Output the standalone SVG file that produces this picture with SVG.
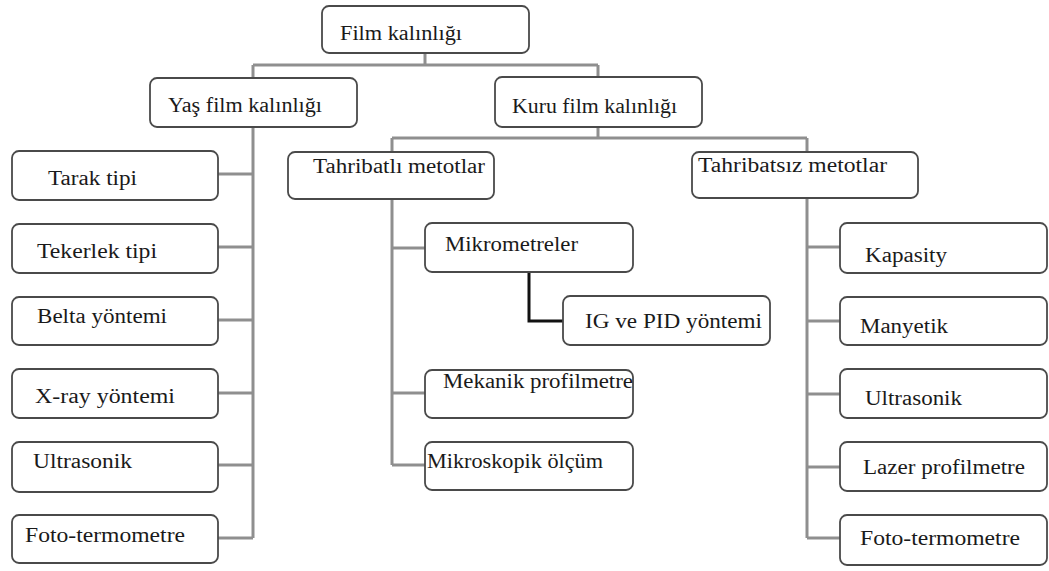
<svg xmlns="http://www.w3.org/2000/svg" width="1049" height="571" viewBox="0 0 1049 571">
<style>
.box{fill:#fff;stroke:#4a4a4a;stroke-width:1.8}
.t{font-size:20px;fill:#1a1a1a}
.c{fill:none;stroke:#8f8f8f;stroke-width:3}
.k{fill:none;stroke:#111;stroke-width:3}
</style>
<rect width="1049" height="571" fill="#fff"/>
<g id="connectors">
<path class="c" d="M425,53 V65 M253,65 H598 M253,65 V78 M598,65 V77"/>
<path class="c" d="M253,127 V538 M218,174 H253 M218,247 H253 M218,320 H253 M218,393 H253 M218,465 H253 M218,538 H253"/>
<path class="c" d="M598,127 V138 M392,138 H807 M392,138 V152 M807,138 V152"/>
<path class="c" d="M392,199 V465 M392,248 H425 M392,393 H425 M392,465 H425"/>
<path class="c" d="M807,198 V538 M807,247 H840 M807,321 H840 M807,394 H840 M807,467 H840 M807,538 H840"/>
<path class="k" d="M529,272 V321 H563"/>
</g>
<g font-family="'Liberation Serif', 'DejaVu Serif', serif">
<g id="n-film"><rect class="box" x="322" y="6" width="207" height="47" rx="7"/><text class="t" x="340" y="40" textLength="122" lengthAdjust="spacingAndGlyphs">Film kalınlığı</text></g>
<g id="n-yas"><rect class="box" x="150" y="78" width="207" height="49" rx="7"/><text class="t" x="168" y="112" textLength="154" lengthAdjust="spacingAndGlyphs">Yaş film kalınlığı</text></g>
<g id="n-kuru"><rect class="box" x="495" y="77" width="207" height="50" rx="7"/><text class="t" x="512" y="113" textLength="165" lengthAdjust="spacingAndGlyphs">Kuru film kalınlığı</text></g>
<g id="n-tahribatli"><rect class="box" x="288" y="152" width="206" height="47" rx="7"/><text class="t" x="313" y="173" textLength="172" lengthAdjust="spacingAndGlyphs">Tahribatlı metotlar</text></g>
<g id="n-tahribatsiz"><rect class="box" x="692" y="152" width="226" height="46" rx="7"/><text class="t" x="698" y="172" textLength="189" lengthAdjust="spacingAndGlyphs">Tahribatsız metotlar</text></g>
<g id="n-tarak"><rect class="box" x="12" y="151" width="206" height="49" rx="7"/><text class="t" x="48" y="185" textLength="89" lengthAdjust="spacingAndGlyphs">Tarak tipi</text></g>
<g id="n-tekerlek"><rect class="box" x="12" y="224" width="206" height="49" rx="7"/><text class="t" x="37" y="258" textLength="120" lengthAdjust="spacingAndGlyphs">Tekerlek tipi</text></g>
<g id="n-belta"><rect class="box" x="12" y="297" width="206" height="48" rx="7"/><text class="t" x="37" y="323" textLength="130" lengthAdjust="spacingAndGlyphs">Belta yöntemi</text></g>
<g id="n-xray"><rect class="box" x="12" y="369" width="206" height="49" rx="7"/><text class="t" x="35" y="403" textLength="140" lengthAdjust="spacingAndGlyphs">X-ray yöntemi</text></g>
<g id="n-ultra-l"><rect class="box" x="12" y="442" width="206" height="50" rx="7"/><text class="t" x="33" y="468" textLength="99" lengthAdjust="spacingAndGlyphs">Ultrasonik</text></g>
<g id="n-foto-l"><rect class="box" x="12" y="515" width="206" height="48" rx="7"/><text class="t" x="25" y="542" textLength="160" lengthAdjust="spacingAndGlyphs">Foto-termometre</text></g>
<g id="n-mikrometre"><rect class="box" x="425" y="223" width="208" height="49" rx="7"/><text class="t" x="445" y="251" textLength="133" lengthAdjust="spacingAndGlyphs">Mikrometreler</text></g>
<g id="n-ig"><rect class="box" x="563" y="296" width="207" height="49" rx="7"/><text class="t" x="585" y="328" textLength="177" lengthAdjust="spacingAndGlyphs">IG ve PID yöntemi</text></g>
<g id="n-mekanik"><rect class="box" x="425" y="370" width="208" height="48" rx="7"/><text class="t" x="443" y="388" textLength="190" lengthAdjust="spacingAndGlyphs">Mekanik profilmetre</text></g>
<g id="n-mikroskopik"><rect class="box" x="425" y="442" width="208" height="48" rx="7"/><text class="t" x="427" y="468" textLength="176" lengthAdjust="spacingAndGlyphs">Mikroskopik ölçüm</text></g>
<g id="n-kapasity"><rect class="box" x="840" y="223" width="207" height="50" rx="7"/><text class="t" x="865" y="262" textLength="82" lengthAdjust="spacingAndGlyphs">Kapasity</text></g>
<g id="n-manyetik"><rect class="box" x="840" y="297" width="207" height="48" rx="7"/><text class="t" x="860" y="333" textLength="88" lengthAdjust="spacingAndGlyphs">Manyetik</text></g>
<g id="n-ultra-r"><rect class="box" x="840" y="369" width="207" height="49" rx="7"/><text class="t" x="865" y="405" textLength="97" lengthAdjust="spacingAndGlyphs">Ultrasonik</text></g>
<g id="n-lazer"><rect class="box" x="840" y="442" width="207" height="49" rx="7"/><text class="t" x="863" y="474" textLength="162" lengthAdjust="spacingAndGlyphs">Lazer profilmetre</text></g>
<g id="n-foto-r"><rect class="box" x="840" y="515" width="207" height="50" rx="7"/><text class="t" x="860" y="545" textLength="160" lengthAdjust="spacingAndGlyphs">Foto-termometre</text></g>
</g>
</svg>
